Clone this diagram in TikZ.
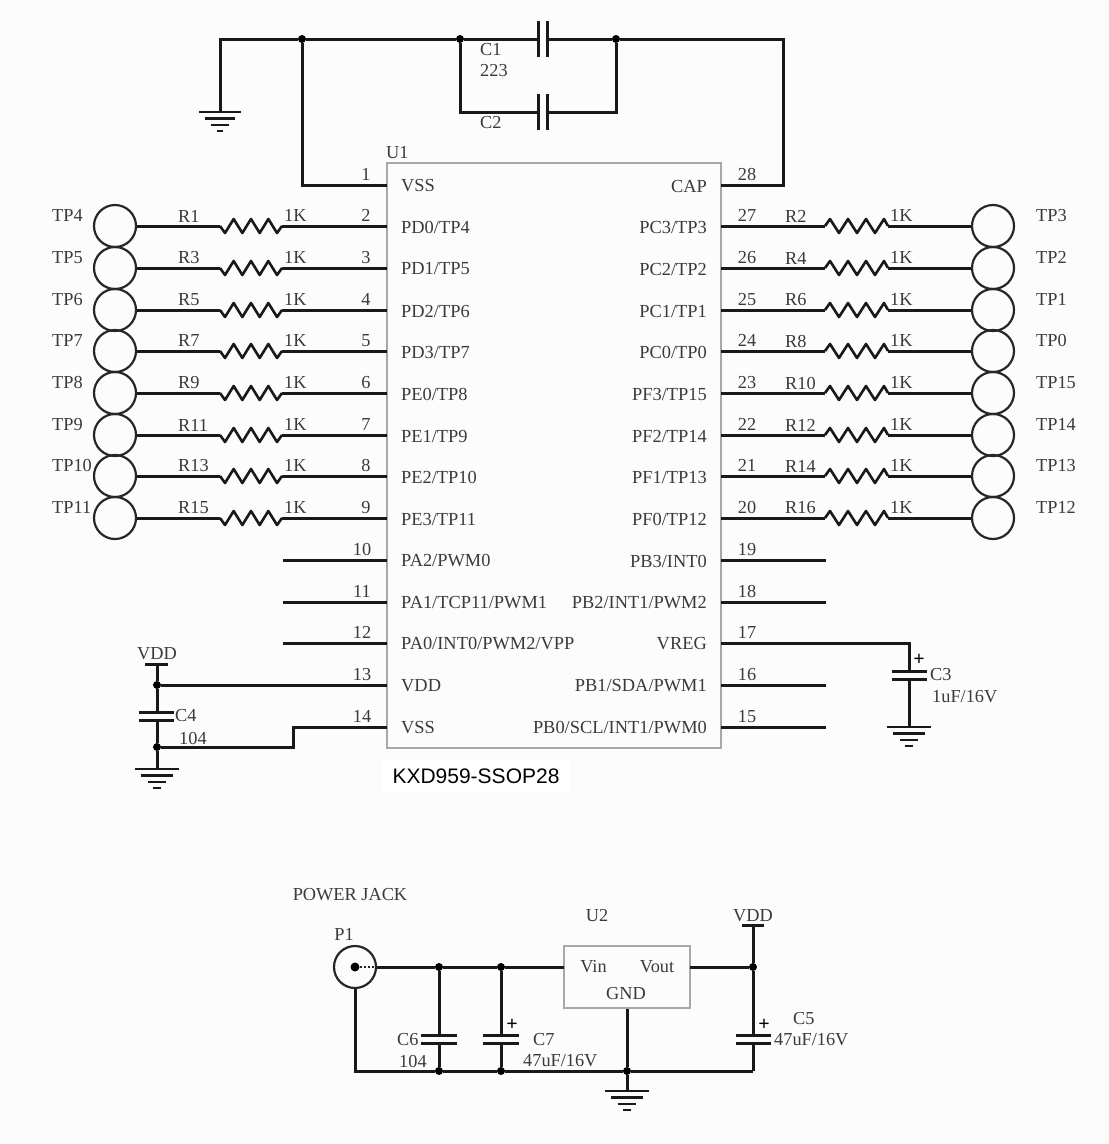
\documentclass[tikz,border=0pt]{standalone}
\usepackage{fontspec}
\setmainfont{Liberation Serif}
\newfontfamily\arialf{Liberation Sans}
\definecolor{ink}{HTML}{3A3A3A}
\definecolor{boxgray}{HTML}{A8A8A8}
\tikzset{
  wire/.style={draw=black!90,line width=3pt,line join=miter,line cap=butt},
  lab/.style={text=ink,font=\fontsize{18.3}{20}\selectfont,inner sep=0pt},
  pinname/.style={text=ink,font=\fontsize{18.4}{20}\selectfont,inner sep=0pt},
  dotj/.style={circle,fill=black,inner sep=0pt,minimum size=8pt},
  tpcirc/.style={circle,draw=black!85,line width=2.2pt,fill=none,inner sep=0pt,minimum size=42pt},
  chip/.style={rectangle,draw=boxgray,line width=1.5pt,inner sep=0pt},
  plus/.style={text=black,font=\bfseries\fontsize{20}{20}\selectfont,inner sep=0pt},
  pics/gnd/.style={code={
    \draw[draw=black!90,line width=2.6pt] (-#1,0) -- (#1,0);
    \draw[draw=black!90,line width=2.6pt] (-#1*0.72,6.5) -- (#1*0.72,6.5);
    \draw[draw=black!90,line width=2.6pt] (-#1*0.42,13) -- (#1*0.42,13);
    \draw[draw=black!90,line width=2.6pt] (-#1*0.16,19) -- (#1*0.16,19);
  }},
  pics/hcap/.style={code={
    \draw[draw=black!90,line width=3pt] (-#1,-4) -- (#1,-4);
    \draw[draw=black!90,line width=3pt] (-#1,4) -- (#1,4);
  }},
  pics/vcap/.style={code={
    \draw[draw=black!90,line width=3pt] (-4.5,-18) -- (-4.5,18);
    \draw[draw=black!90,line width=3pt] (4.5,-18) -- (4.5,18);
  }},
}
\begin{document}
\begin{tikzpicture}[x=1pt,y=-1pt]
\useasboundingbox (0,0) rectangle (1109,1144);
\fill[white!99!black] (0,0) rectangle (1109,1144);

% --- U1
\node[chip,minimum width=334pt,minimum height=585pt] (U1) at (554,455.5) {};
\node[lab,anchor=west] (U1lab) at (386,153) {U1};
\node[fill=white,inner xsep=11pt,inner ysep=9pt,font=\arialf\fontsize{21}{23}\selectfont,text=black] (U1part) at (476,776) {KXD959-SSOP28};

% pin coordinates, names and numbers: left side
\foreach \n/\y/\nm/\xn in {1/185/VSS/366,2/226/PD0\slash TP4/366,3/268/PD1\slash TP5/366,4/310/PD2\slash TP6/366,5/351/PD3\slash TP7/366,6/393/PE0\slash TP8/366,7/435/PE1\slash TP9/366,8/476/PE2\slash TP10/366,9/518/PE3\slash TP11/366,10/560/PA2\slash PWM0/362,11/602/PA1\slash TCP11\slash PWM1/362,12/643/PA0\slash INT0\slash PWM2\slash VPP/362,13/685/VDD/362,14/727/VSS/362}{
  \coordinate (p\n) at (387,\y);
  \node[pinname,anchor=west] (pn\n) at (401,\y+1) {\nm};
  \node[lab,anchor=center] (pt\n) at (\xn,\y-10.5) {\n};
}
% right side
\foreach \n/\y/\nm in {28/185/CAP,27/226/PC3\slash TP3,26/268/PC2\slash TP2,25/310/PC1\slash TP1,24/351/PC0\slash TP0,23/393/PF3\slash TP15,22/435/PF2\slash TP14,21/476/PF1\slash TP13,20/518/PF0\slash TP12,19/560/PB3\slash INT0,18/602/PB2\slash INT1\slash PWM2,17/643/VREG,16/685/PB1\slash SDA\slash PWM1,15/727/PB0\slash SCL\slash INT1\slash PWM0}{
  \coordinate (p\n) at (721,\y);
  \node[pinname,anchor=east] (pn\n) at (707,\y+1) {\nm};
  \node[lab,anchor=center] (pt\n) at (747,\y-10.5) {\n};
}

% --- left TP chains
\foreach \pin/\y/\tp/\r in {2/226/TP4/R1,3/268/TP5/R3,4/310/TP6/R5,5/351/TP7/R7,6/393/TP8/R9,7/435/TP9/R11,8/476/TP10/R13,9/518/TP11/R15}{
  \node[tpcirc] (c\tp) at (115,\y) {};
  \node[lab,anchor=west] (t\tp) at (52,\y-10.5) {\tp};
  \node[lab,anchor=west] (l\r) at (178,\y-10) {\r};
  \node[lab,anchor=west] (v\r) at (284,\y-10.5) {1K};
  \coordinate (a\r) at (220,\y);
  \coordinate (b\r) at (282,\y);
  \draw[wire] (c\tp.east) -- (a\r);
  \draw[wire,line width=2.6pt,line join=round] (a\r) -- ++(5,7) -- ++(8.67,-14) -- ++(8.67,14) -- ++(8.67,-14) -- ++(8.67,14) -- ++(8.67,-14) -- ++(8.67,14) -- (b\r);
  \draw[wire] (b\r) -- (p\pin);
}
% --- right TP chains
\foreach \pin/\y/\tp/\r in {27/226/TP3/R2,26/268/TP2/R4,25/310/TP1/R6,24/351/TP0/R8,23/393/TP15/R10,22/435/TP14/R12,21/476/TP13/R14,20/518/TP12/R16}{
  \node[tpcirc] (c\tp) at (993,\y) {};
  \node[lab,anchor=west] (t\tp) at (1036,\y-10.5) {\tp};
  \node[lab,anchor=west] (l\r) at (785,\y-10) {\r};
  \node[lab,anchor=west] (v\r) at (890,\y-10.5) {1K};
  \coordinate (a\r) at (825,\y);
  \coordinate (b\r) at (888,\y);
  \draw[wire] (p\pin) -- (a\r);
  \draw[wire,line width=2.6pt,line join=round] (a\r) -- ++(5,-7) -- ++(9,14) -- ++(9,-14) -- ++(9,14) -- ++(9,-14) -- ++(9,14) -- ++(9,-14) -- (b\r);
  \draw[wire] (b\r) -- (c\tp.west);
}
% --- open pins
\foreach \pin/\y in {10/560,11/602,12/643}{
  \coordinate (o\pin) at (283,\y);
  \draw[wire] (o\pin) -- (p\pin);
}
\foreach \pin/\y in {19/560,18/602,16/685,15/727}{
  \coordinate (o\pin) at (826,\y);
  \draw[wire] (p\pin) -- (o\pin);
}

% --- top capacitors
\coordinate (gndA) at (220,112);
\coordinate (topL) at (220,39);
\node[dotj] (j1) at (302,39) {};
\node[dotj] (j2) at (460,39) {};
\node[dotj] (j3) at (616,39) {};
\coordinate (topR) at (783,39);
\coordinate (c1a) at (538,39);
\coordinate (c1b) at (547,39);
\coordinate (c2a) at (538,112);
\coordinate (c2b) at (547,112);
\draw[wire] (gndA) -- (topL) -- (j1) -- (j2) -- (c1a);
\draw[wire] (c1b) -- (j3) -- (topR) |- (p28);
\draw[wire] (j1) |- (p1);
\draw[wire] (j2) |- (c2a);
\draw[wire] (j3) |- (c2b);
\pic at (542.5,39) {vcap};
\pic at (542.5,112) {vcap};
\pic at (220,112) {gnd=21};
\node[lab,anchor=west] (lC1) at (480,50) {C1};
\node[lab,anchor=west] (vC1) at (480,71) {223};
\node[lab,anchor=west] (lC2) at (480,123) {C2};

% --- C4
\node[lab] (vdd1) at (157,654) {VDD};
\coordinate (vdd1b) at (157,664);
\draw[wire] (145,664) -- (168,664);
\node[dotj] (j4) at (157,685) {};
\node[dotj] (j5) at (157,747) {};
\coordinate (c4a) at (157,712);
\coordinate (c4b) at (157,720);
\coordinate (g4) at (157,769);
\coordinate (s14) at (293,747);
\draw[wire] (vdd1b) -- (j4) -- (c4a);
\draw[wire] (c4b) -- (j5) -- (g4);
\draw[wire] (j4) -- (p13);
\draw[wire] (j5) -- (s14) |- (p14);
\pic at (156,716) {hcap=17.5};
\pic at (157,769) {gnd=22};
\node[lab,anchor=west] (lC4) at (175,716) {C4};
\node[lab,anchor=west] (vC4) at (179,738) {104};

% --- C3
\coordinate (c3t) at (909,643);
\coordinate (c3a) at (909,671);
\coordinate (c3b) at (909,679);
\coordinate (g3) at (909,727);
\draw[wire] (p17) -- (c3t) -- (c3a);
\draw[wire] (c3b) -- (g3);
\pic at (909,675) {hcap=17.5};
\pic at (909,727) {gnd=22};
\node[plus] (plus3) at (919,660) {+};
\node[lab,anchor=west] (lC3) at (930,675) {C3};
\node[lab,anchor=west] (vC3) at (932,697) {1uF/16V};

% --- power section
\node[lab] (pj) at (350,895) {POWER JACK};
\node[lab] (lP1) at (344,934) {P1};
\node[circle,draw=black!85,line width=2.2pt,minimum size=42pt,inner sep=0pt] (P1) at (355,967) {};
\node[circle,fill=black,inner sep=0pt,minimum size=9pt] (P1c) at (355,967) {};
\draw[line width=2pt,dotted,black!85] (P1c) -- (P1.east);
\node[chip,minimum width=126pt,minimum height=62pt] (U2) at (627,977) {};
\node[lab] (lU2) at (597,916) {U2};
\node[lab] (vin) at (593.5,967) {Vin};
\node[lab] (vout) at (657,967) {Vout};
\node[lab] (gndt) at (626,994) {GND};
\coordinate (u2in) at (564,967);
\coordinate (u2out) at (690,967);
\node[dotj] (j6) at (439,967) {};
\node[dotj] (j7) at (501,967) {};
\node[dotj] (j8) at (753,967) {};
\node[dotj] (j9) at (439,1071) {};
\node[dotj] (j10) at (501,1071) {};
\node[dotj] (j11) at (627,1071) {};
\coordinate (blc) at (355,1071);
\coordinate (brc) at (753,1071);
\coordinate (vdd2b) at (753,925);
\draw[wire] (P1.east) -- (j6) -- (j7) -- (u2in);
\draw[wire] (u2out) -- (j8);
\draw[wire] (vdd2b) -- (j8);
\draw[wire] (742,925) -- (764,925);
\node[lab] (vdd2) at (753,916) {VDD};
\draw[wire] (P1.south) -- (blc) -- (j9) -- (j10) -- (j11) -- (brc);
\draw[wire] (U2.south) -- (j11);
\coordinate (g2) at (627,1091);
\draw[wire] (j11) -- (g2);
\pic at (627,1091) {gnd=22};
% C6, C7, C5
\foreach \jt/\jb/\x/\hw in {j6/j9/439/18,j7/j10/501/18,j8/brc/753/17.5}{
  \coordinate (ct\x) at (\x,1035);
  \coordinate (cb\x) at (\x,1043);
  \draw[wire] (\jt) -- (ct\x);
  \draw[wire] (cb\x) -- (\jb);
  \pic at (\x,1039) {hcap=\hw};
}
\node[plus] (plus7) at (512,1025) {+};
\node[plus] (plus5) at (764,1025) {+};
\node[lab,anchor=west] (lC6) at (397,1040) {C6};
\node[lab,anchor=west] (vC6) at (399,1061) {104};
\node[lab,anchor=west] (lC7) at (533,1040) {C7};
\node[lab,anchor=west] (vC7) at (523,1061) {47uF/16V};
\node[lab,anchor=west] (lC5) at (793,1019) {C5};
\node[lab,anchor=west] (vC5) at (774,1040) {47uF/16V};
\end{tikzpicture}
\end{document}
